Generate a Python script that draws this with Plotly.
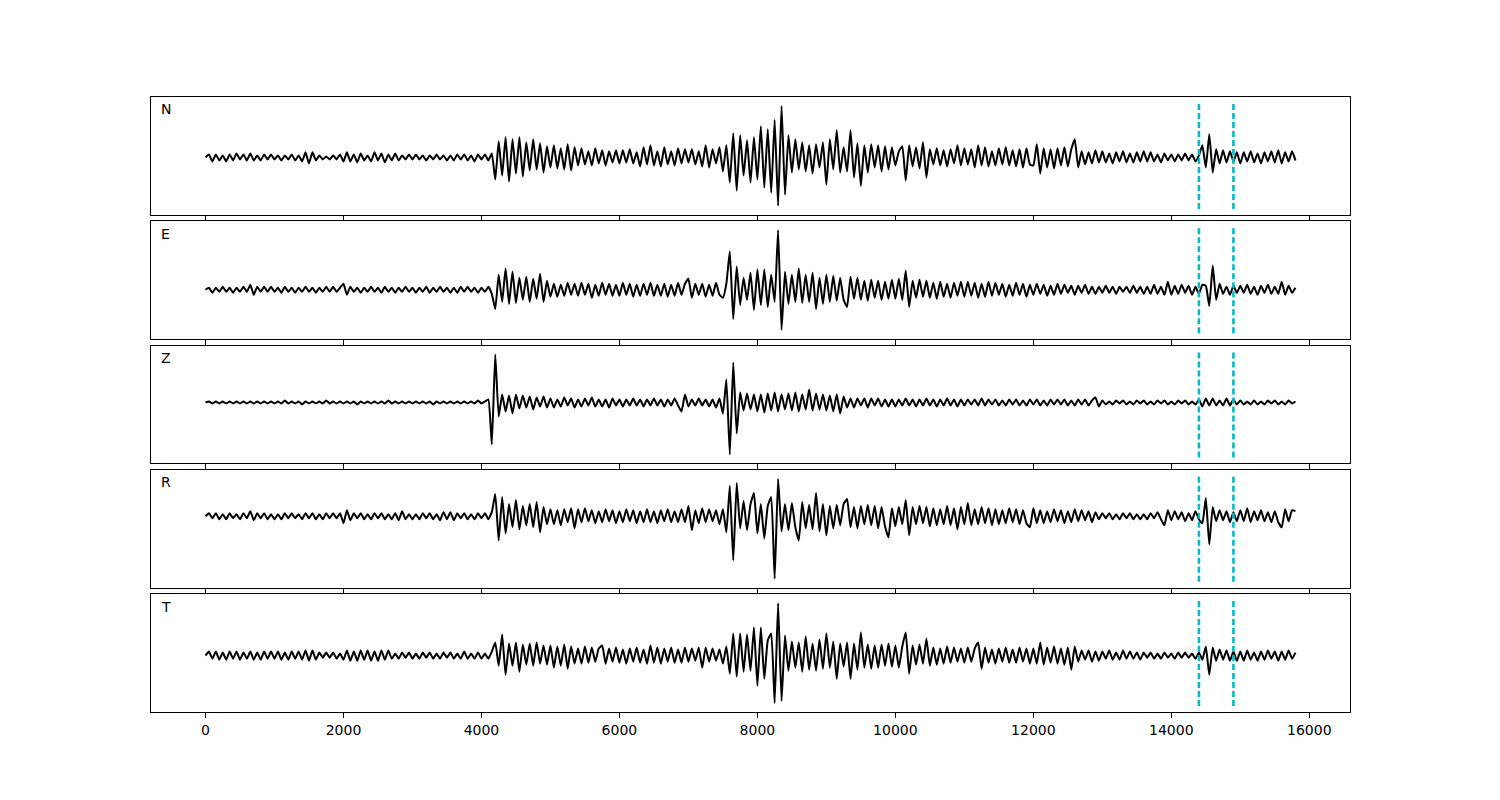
import numpy as np
import plotly.graph_objects as go
from plotly.subplots import make_subplots

# sample spacing of the traces (samples), picks marked with dashed lines
SAMPLE_STEP = 50
PICK_TIMES = [14400, 14900]
COMPONENTS = ["N", "E", "Z", "R", "T"]
X_TICKS = [0, 2000, 4000, 6000, 8000, 10000, 12000, 14000, 16000]

# amplitudes, one row per 1000 samples
N_AMP = [
    0, 3, -4, 3, -3, 2, -4, 3, -3, 4, -2, 3, -3, 4, -3, 2, -3, 3, -2, 3,
    -2, 2, -3, 2, -2, 3, -3, 2, -4, 5, -6, 5, -3, 2, -2, 1, -2, 2, -2, 3,
    -4, 5, -4, 3, -5, 4, -3, 2, -4, 5, -3, 4, -5, 3, -3, 4, -3, 2, -2, 3,
    -2, 3, -2, 2, -3, 2, -2, 3, -2, 2, -3, 2, -3, 3, -2, 3, -3, 2, -4, 3,
    -2, 3, -3, 4, -22, 16, -18, 20, -24, 18, -16, 20, -19, 15, -13, 18, -12, 14, -15, 11,
    -10, 12, -11, 9, -12, 13, -13, 10, -8, 9, -7, 6, -8, 9, -6, 7, -8, 6, -5, 7,
    -6, 7, -5, 8, -6, 5, -9, 10, -7, 12, -8, 6, -9, 10, -7, 6, -8, 9, -6, 8,
    -5, 8, -7, 6, -9, 12, -10, 8, -6, 10, -14, 12, -25, 24, -33, 22, -18, 17, -25, 20,
    -22, 31, -30, 28, -35, 37, -48, 51, -37, 22, -15, 18, -12, 15, -14, 12, -16, 13, -10, 15,
    -27, 18, -12, 27, -15, 10, -14, 27, -20, 14, -28, 12, -15, 13, -10, 12, -14, 11, -12, 10,
    -8, 6, 11, -23, 12, -9, 10, -11, 15, -20, 8, -7, 9, -8, 7, -9, 8, -6, 12, -8,
    9, -7, 8, -10, 12, -8, 10, -9, 6, -8, 9, -7, 10, -8, 7, -9, 8, -10, 9, -7,
    -8, 13, -16, 9, -10, 8, -11, 9, -8, 10, -9, 8, 18, -10, 6, -7, 5, -6, 7, -5,
    6, -5, 4, -6, 5, -4, 6, -5, 4, -5, 5, -4, 6, -4, 5, -4, 3, -5, 4, -3,
    3, -4, 3, -3, 4, -3, 3, -4, 2, 12, -10, 23, -15, 8, -6, 7, -5, 6, -4, 5,
    -6, 5, -4, 6, -5, 4, -6, 5, -4, 6, -5, 7, -6, 5, -4, 6, -3,
]
E_AMP = [
    0, 2, -3, 2, -2, 3, -2, 2, -3, 2, -2, 3, -2, 5, -5, 3, -2, 3, -2, 3,
    -2, 2, -3, 3, -2, 2, -3, 2, -2, 3, -2, 2, -3, 2, -2, 3, -2, 3, -2, 2,
    6, -5, 3, -2, 2, -3, 2, -2, 3, -2, 2, -3, 3, -2, 2, -3, 2, -2, 3, -2,
    2, -3, 2, -2, 3, -3, 2, -2, 3, -2, 2, -3, 2, -3, 3, -2, 3, -2, 2, -3,
    2, -2, 3, -4, -19, 15, -12, 21, -14, 18, -13, 12, -10, 13, -12, 11, -9, 16, -12, 9,
    -7, 6, -7, 5, -6, 7, -5, 6, -6, 7, -5, 6, -8, 5, -6, 7, -5, 6, -6, 5,
    -6, 7, -5, 6, -7, 5, -6, 6, -5, 7, -6, 5, -6, 6, -7, 5, -6, 7, -5, 6,
    11, -8, 6, -5, 6, -7, 5, -6, 7, -5, -8, 6, 38, -29, 23, -15, 12, -10, 17, -20,
    20, -15, 20, -17, 15, -12, 59, -40, 18, -14, 15, -12, 21, -13, 15, -12, 17, -19, 12, -14,
    15, -12, 14, -11, 12, -10, -17, 13, -9, 12, -10, 9, -11, 10, -8, 9, -10, 8, -9, 10,
    -9, 11, -10, 19, -17, 9, -8, 10, -7, 9, -8, 7, -9, 8, -7, 6, -8, 7, -6, 8,
    -7, 8, -6, 7, -8, 6, -7, 8, -6, 7, -5, 6, -7, 5, -6, 7, -5, 6, -7, 5,
    -5, 6, -4, 5, -6, 4, -5, 6, -4, 5, -3, 4, -5, 4, -3, 5, -4, 3, -4, 3,
    -3, 4, -3, 3, -4, 3, -2, 3, -3, 4, -3, 3, -4, 3, -4, 5, -4, 3, -5, 8,
    -5, 4, -4, 5, -3, 4, -5, 3, -4, 5, 4, -16, 24, -10, 6, -4, 3, -5, 4, -3,
    4, -3, 5, -4, 3, -5, 4, -3, 5, -4, 3, -4, 8, -5, 4, -3, 2,
]
Z_AMP = [
    0, 1, -1, 1, -1, 1, -1, 1, -1, 1, -1, 1, -1, 1, -1, 1, -1, 1, -1, 1,
    -1, 1, -1, 2, -1, 1, -1, 1, -2, 1, -1, 1, -1, 1, -1, 2, -1, 1, -1, 1,
    -1, 1, -1, 1, -2, 1, -1, 1, -1, 1, -1, 1, -1, 2, -1, 1, -1, 1, -1, 1,
    -1, 1, -1, 1, -1, 1, -2, 1, -1, 1, -1, 1, -1, 1, -1, 1, -1, 1, -1, 2,
    -1, 1, 3, -42, 48, -14, 8, -9, 7, -11, 8, -6, 7, -5, 6, -7, 5, -4, 6, -5,
    4, -5, 3, -4, 5, -3, 4, -5, 3, -4, 4, -3, 5, -4, 3, -4, 3, -5, 4, -3,
    3, -4, 3, -3, 4, -3, 3, -4, 3, -3, 4, -3, 3, -4, 3, -3, 4, -3, -9, 8,
    -4, 3, -3, 4, -3, 3, -4, 3, -5, 4, -11, 23, -52, 40, -31, 10, -8, 9, -7, 8,
    -9, 8, -10, 9, -8, 10, -9, 8, -7, 9, -8, 10, -9, 8, -7, 13, -8, 9, -7, 8,
    -8, 7, -9, 8, -11, 6, -5, 4, -5, 4, -3, 4, -5, 4, -3, 4, -4, 3, -4, 3,
    -4, 3, -3, 4, -3, 3, -4, 3, -3, 4, -3, 3, -4, 3, -3, 4, -3, 3, -4, 3,
    -3, 3, -2, 3, -3, 4, -3, 3, -2, 3, -3, 2, -3, 3, -2, 3, -3, 2, -3, 3,
    -2, 3, -3, 2, -3, 3, -2, 3, -2, 3, -3, 2, -3, 3, -2, 3, -3, 2, 5, -4,
    2, -2, 1, -2, 2, -1, 2, -2, 1, -2, 2, -1, 2, -2, 1, -2, 2, -1, 2, -2,
    1, -2, 2, -1, 2, -2, 1, -2, 3, -4, 4, -3, 4, -3, 2, -3, 4, -3, 3, -2,
    2, -2, 1, -2, 2, -2, 1, -2, 2, -1, 2, -2, 1, -2, 2, -1, 1,
]
R_AMP = [
    0, 3, -2, 3, -3, 2, -3, 3, -2, 2, -3, 3, -2, 5, -4, 3, -2, 3, -3, 2,
    -3, 2, -3, 3, -2, 3, -2, 2, -3, 3, -2, 3, -3, 2, -3, 3, -2, 3, -2, 3,
    -7, 6, -4, 3, -2, 3, -3, 2, -3, 3, -2, 3, -3, 2, -3, 3, -4, 5, -3, 2,
    -3, 2, -3, 3, -2, 3, -3, 2, -4, 4, -3, 4, -4, 3, -2, 3, -3, 2, -3, 3,
    -2, 3, -3, 4, 22, -24, 19, -17, 12, -11, 16, -13, 10, -9, 12, -11, 14, -16, 9, -8,
    7, -8, 6, -9, 7, -6, 8, -12, 7, -6, 8, -5, 6, -7, 5, -6, 7, -5, 6, -7,
    5, -6, 7, -5, 6, -7, 5, -6, 7, -6, 5, -7, 6, -5, 7, -6, 5, -6, 7, -6,
    10, -14, 6, -7, 8, -6, 7, -5, 6, -8, 7, -16, 30, -44, 33, -12, 15, -14, 12, 23,
    -17, 12, -22, 10, 19, -62, 37, -15, 12, -14, 13, -11, -24, 14, -12, 11, -13, 23, -15, 12,
    -19, 10, -12, 11, -9, 12, 17, -11, 9, -12, 10, -8, 11, -9, 10, -12, 9, -10, -21, 8,
    -10, 9, -8, 16, -19, 9, -8, 10, -7, 9, -10, 8, -9, 7, -8, 10, -9, 8, -13, 9,
    -8, 13, -9, 7, -8, 9, -7, 8, -9, 7, -8, 6, -7, 8, -6, 7, -8, 6, -7, -11,
    8, -7, 6, -7, 5, -6, 7, -5, 6, -7, 5, -6, 7, -5, 6, -4, 5, -6, 4, -3,
    3, -2, 3, -3, 2, -3, 3, -2, 3, -3, 2, -3, 2, -3, 3, -2, 4, -3, -9, 6,
    -4, 5, -3, 4, -5, 3, -4, 5, -3, -7, 18, -28, 9, -5, 6, -4, 5, -6, 4, -5,
    6, -5, 8, -6, 5, -4, 6, -5, 4, -6, 5, -6, -11, 7, -5, 6, 5,
]
T_AMP = [
    0, 4, -3, 4, -4, 3, -4, 4, -3, 4, -4, 3, -3, 4, -4, 3, -4, 4, -3, 4,
    -3, 4, -4, 3, -4, 4, -3, 4, -4, 5, -5, 5, -4, 3, -2, 3, -2, 3, -3, 2,
    -4, 5, -5, 4, -5, 5, -4, 5, -5, 4, -5, 5, -4, 5, -3, 2, -3, 3, -2, 3,
    -3, 2, -3, 3, -2, 3, -3, 2, -3, 3, -2, 3, -3, 2, -3, 4, -3, 2, -3, 3,
    -3, 2, -3, 4, 13, -10, 21, -19, 12, -10, 13, -16, 11, -9, 12, -10, 13, -8, 10, -9,
    10, -12, 9, -10, 11, -13, 9, -8, 7, -8, 9, -7, 8, -6, 7, 10, -8, 7, -6, 8,
    -7, 6, -8, 7, -6, 8, -7, 6, -8, 10, -7, 8, -8, 7, -6, 8, -7, 6, -7, 8,
    -6, 7, -5, 8, -12, 8, -6, 7, -5, 6, -8, 9, -18, 22, -21, 22, -16, 21, -15, 28,
    -30, 28, -23, 15, 22, -47, 52, -45, 20, -15, 14, -12, 13, -16, 19, -14, 12, -15, 16, -13,
    22, -12, 14, -23, 12, -11, 13, -23, 12, -14, 23, -12, 11, -13, 10, -12, 11, -10, 12, -11,
    10, -12, 9, 23, -18, 10, -9, 11, -8, 17, -10, 8, -9, 7, -8, 9, -7, 8, -6, 7,
    -7, 8, -6, 7, 13, -13, 8, -7, 6, -8, 7, -6, 8, -7, 6, -7, 8, -6, 7, -8,
    7, -8, 13, -9, 8, -7, 9, -8, 7, -9, 8, -14, 9, -6, 5, -4, 5, -6, 4, -5,
    4, -3, 5, -4, 3, -4, 5, -3, 4, -3, 3, -4, 3, -2, 3, -3, 2, -3, 3, -2,
    2, -3, 3, -2, 3, -2, 2, -3, 3, -4, 9, -19, 8, -5, 6, -4, 5, -5, 4, -5,
    4, -5, 5, -4, 3, -5, 4, -4, 5, -3, 4, -5, 4, -4, 5, -3, 3,
]

traces = [N_AMP, E_AMP, Z_AMP, R_AMP, T_AMP]

fig = make_subplots(rows=5, cols=1, vertical_spacing=6.5 / 615)

for i, (name, amp) in enumerate(zip(COMPONENTS, traces)):
    row = i + 1
    amp = np.array(amp, dtype=float)
    t = np.arange(len(amp)) * SAMPLE_STEP
    fig.add_trace(
        go.Scatter(x=t, y=amp, mode="lines",
                   line=dict(color="black", width=2, shape="spline", smoothing=0.4),
                   hoverinfo="skip", showlegend=False),
        row=row, col=1,
    )
    span = amp.max() - amp.min()
    pad = 0.09 * span
    fig.update_yaxes(range=[amp.min() - pad, amp.max() + pad], row=row, col=1)

    sfx = "" if row == 1 else str(row)
    for pick in PICK_TIMES:
        fig.add_shape(
            type="line", x0=pick, x1=pick, y0=0.05, y1=0.96,
            xref="x" + sfx, yref="y" + sfx + " domain",
            line=dict(color="#00BFBF", width=2.6, dash="6px,3px"),
        )
    fig.add_annotation(
        text=name, xref="x" + sfx + " domain", yref="y" + sfx + " domain",
        x=0.007, y=0.98, xanchor="left", yanchor="top", showarrow=False,
        font=dict(size=14, color="black"),
    )

fig.update_xaxes(
    range=[-790, 16590], tickvals=X_TICKS, ticktext=[str(v) for v in X_TICKS],
    showline=True, mirror=True, linecolor="black", linewidth=1,
    ticks="outside", ticklen=5, tickwidth=1, tickcolor="black",
    showgrid=False, zeroline=False, showticklabels=False,
)
fig.update_xaxes(showticklabels=True, row=5, col=1)
fig.update_yaxes(
    showline=True, mirror=True, linecolor="black", linewidth=1,
    showticklabels=False, ticks="", showgrid=False, zeroline=False,
)

# page body has an 8px margin, so the figure is drawn 8px smaller and shifted
fig.update_layout(
    width=1492, height=792,
    margin=dict(l=143, r=150, t=89, b=88),
    plot_bgcolor="white", paper_bgcolor="white",
    font=dict(family="DejaVu Sans", size=14, color="black"),
    showlegend=False,
)

fig.write_html("out.html")
